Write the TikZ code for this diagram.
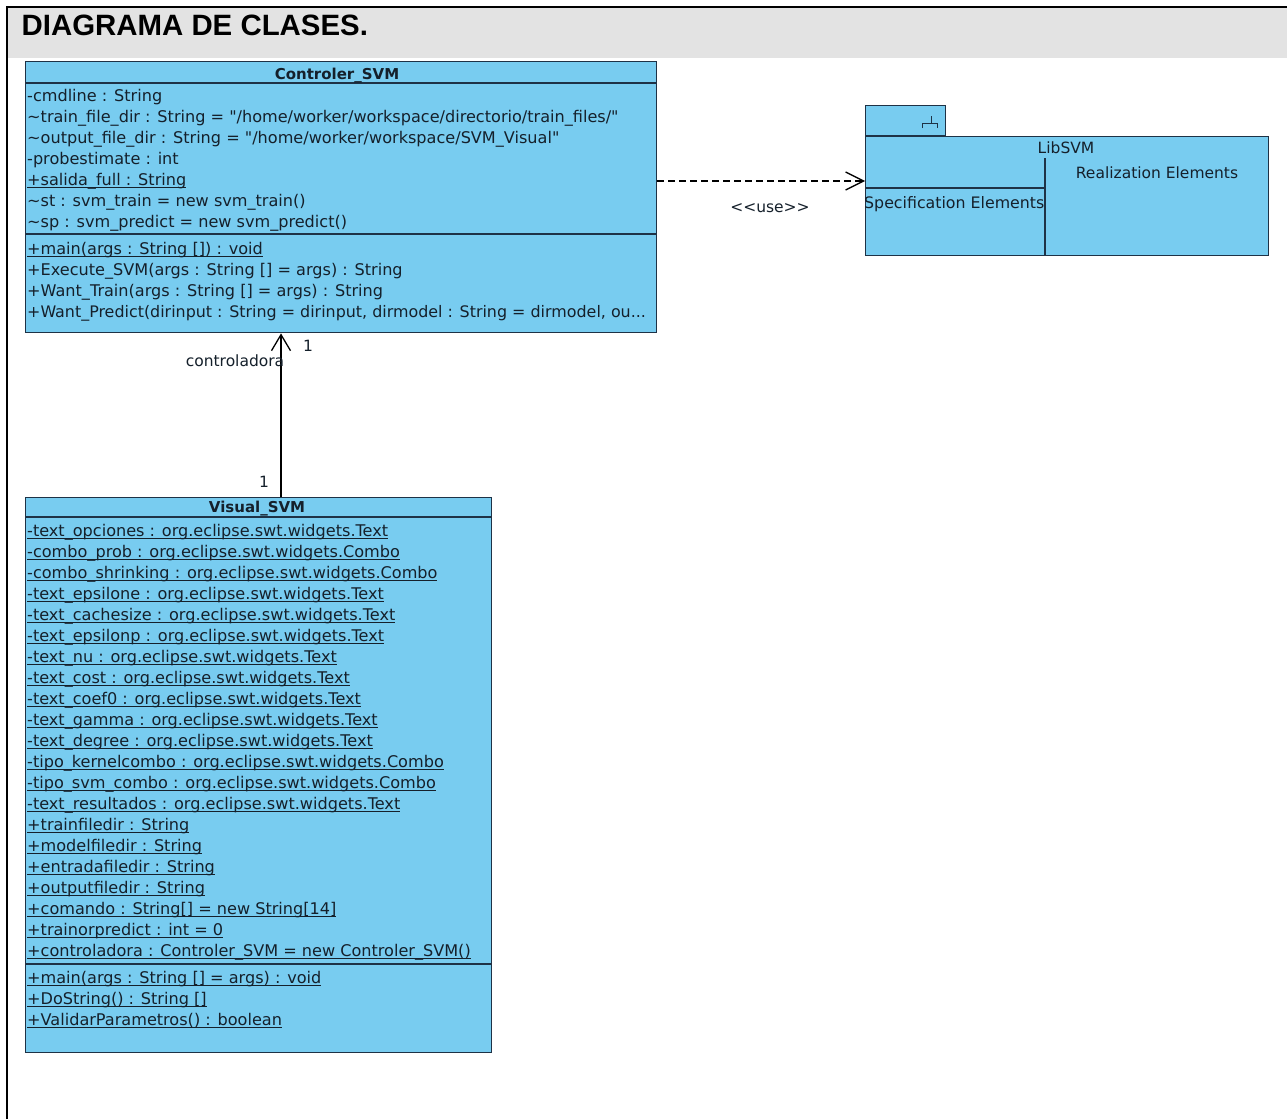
\documentclass[tikz,border=0pt]{standalone}
\usepackage{fontspec}
\setmainfont[Ligatures=TeXOff]{DejaVu Sans}
\newfontfamily\headfont{Liberation Sans}
\usetikzlibrary{arrows.meta}

\definecolor{umlfill}{RGB}{120,204,240}
\definecolor{umlline}{RGB}{30,50,70}
\definecolor{umltext}{RGB}{21,32,43}
\definecolor{headgray}{RGB}{227,227,227}

% underline for static members
\newcommand\umlu[1]{\setbox0=\hbox{#1}\rlap{\rule[-2.8pt]{\wd0}{1pt}}\box0}

\begin{document}
\begin{tikzpicture}[x=1pt,y=-1pt,
  classbox/.style={draw=umlline, fill=umlfill, line width=1.4pt, inner sep=0pt, rectangle},
  boxline/.style={draw=umlline, line width=1.4pt},
  attr/.style={anchor=base west, inner sep=0pt, text=umltext, font=\fontsize{16.1}{19}\selectfont},
  cname/.style={anchor=base, inner sep=0pt, text=umltext, font=\bfseries\fontsize{15}{18}\selectfont},
  lbl/.style={inner sep=0pt, text=umltext, font=\fontsize{15.5}{18}\selectfont},
  assoc/.style={draw=black, line width=1.3pt, -{Straight Barb[length=16pt,width=19pt,line width=1.3pt]}},
  dep/.style={draw=black, line width=1.3pt, dash pattern=on 7pt off 4pt, -{Straight Barb[length=18pt,width=18pt,line width=1.3pt]}}
]
\useasboundingbox (0,0) rectangle (1287,1119);
\fill[white] (0,0) rectangle (1287,1119);

% page frame and heading band
\fill[headgray] (8,8) rectangle (1287,58);
\draw[black, line width=2pt] (7,1119) -- (7,7) -- (1287,7);
\node[anchor=base west, inner sep=0pt, font=\headfont\bfseries\fontsize{29.4}{34}\selectfont] (title) at (21.5,35) {DIAGRAMA DE CLASES.};

% ---------- class Controler_SVM ----------
\node[classbox, minimum width=631pt, minimum height=271pt, anchor=north west] (ctrl) at (25,61) {};
\draw[boxline] ([yshift=-22pt]ctrl.north west) -- ([yshift=-22pt]ctrl.north east);
\draw[boxline] ([yshift=-173pt]ctrl.north west) -- ([yshift=-173pt]ctrl.north east);
\node[cname] (ctrlname) at (337,79.5) {Controler\_SVM};
\foreach \txt [count=\i from 0] in {
  {-cmdline : String},
  {\textasciitilde train\_file\_dir : String = "/home/worker/workspace/directorio/train\_files/"},
  {\textasciitilde output\_file\_dir : String = "/home/worker/workspace/SVM\_Visual"},
  {-probestimate : int},
  {\umlu{+salida\_full : String}},
  {\textasciitilde st : svm\_train = new svm\_train()},
  {\textasciitilde sp : svm\_predict = new svm\_predict()}}
  \node[attr] (ca\i) at (27,{101.5+21*\i}) {\txt};
\node[attr] (cm0) at (27,254.5) {\umlu{+main(args : String []) : void}};
\node[attr] (cm1) at (27,275.5) {+Execute\_SVM(args : String [] = args) : String};
\node[attr] (cm2) at (27,296.5) {+Want\_Train(args : String [] = args) : String};
\node[attr, font=\fontsize{15.9}{19}\selectfont] (cm3) at (27,317.5) {+Want\_Predict(dirinput : String = dirinput, dirmodel : String = dirmodel, ou...};

% ---------- class Visual_SVM ----------
\node[classbox, minimum width=466pt, minimum height=555pt, anchor=north west] (vis) at (25,497) {};
\draw[boxline] ([yshift=-20pt]vis.north west) -- ([yshift=-20pt]vis.north east);
\draw[boxline] ([yshift=-467pt]vis.north west) -- ([yshift=-467pt]vis.north east);
\node[cname] (visname) at (257,512) {Visual\_SVM};
\foreach \txt [count=\i from 0] in {
  -text\_opciones : org.eclipse.swt.widgets.Text,
  -combo\_prob : org.eclipse.swt.widgets.Combo,
  -combo\_shrinking : org.eclipse.swt.widgets.Combo,
  -text\_epsilone : org.eclipse.swt.widgets.Text,
  -text\_cachesize : org.eclipse.swt.widgets.Text,
  -text\_epsilonp : org.eclipse.swt.widgets.Text,
  -text\_nu : org.eclipse.swt.widgets.Text,
  -text\_cost : org.eclipse.swt.widgets.Text,
  -text\_coef0 : org.eclipse.swt.widgets.Text,
  -text\_gamma : org.eclipse.swt.widgets.Text,
  -text\_degree : org.eclipse.swt.widgets.Text,
  -tipo\_kernelcombo : org.eclipse.swt.widgets.Combo,
  -tipo\_svm\_combo : org.eclipse.swt.widgets.Combo,
  -text\_resultados : org.eclipse.swt.widgets.Text,
  +trainfiledir : String,
  +modelfiledir : String,
  +entradafiledir : String,
  +outputfiledir : String,
  {+comando : String[] = new String[14]},
  +trainorpredict : int = 0,
  +controladora : Controler\_SVM = new Controler\_SVM()}
  \node[attr] (va\i) at (27,{536.5+21*\i}) {\umlu{\txt}};
\foreach \txt [count=\i from 0] in {
  {+main(args : String [] = args) : void},
  {+DoString() : String []},
  {+ValidarParametros() : boolean}}
  \node[attr] (vm\i) at (27,{983.5+21*\i}) {\umlu{\txt}};

% ---------- package LibSVM ----------
\node[classbox, minimum width=80pt, minimum height=30pt, anchor=south west] (tab) at (865,136) {};
\node[classbox, minimum width=403pt, minimum height=119pt, anchor=north west] (pkg) at (865,136) {};
\draw[umlline, line width=0.9pt] (931,116) -- (931,123) (922.5,128) -- (922.5,123) -- (937.5,123) -- (937.5,128);
\draw[boxline] (1045,158) -- (1045,255);
\draw[boxline] (865,188) -- (1045,188);
\node[lbl, anchor=base] (pkgname) at (1066,153) {LibSVM};
\node[lbl, anchor=base] (realel) at (1157,178) {Realization Elements};
\node[lbl, anchor=base west, font=\fontsize{15.8}{19}\selectfont] (specel) at (864,208) {Specification Elements};

% ---------- connectors ----------
\coordinate (depy) at (0,181);
\draw[dep] (ctrl.east |- depy) -- (pkg.west |- depy);
\node[lbl, anchor=base] (uselbl) at (770,212.5) {<<use>>};

\coordinate (assocx) at (281,0);
\draw[assoc] (vis.north -| assocx) -- (ctrl.south -| assocx);
\node[lbl, anchor=base] (rolelbl) at (235,366.5) {controladora};
\node[lbl, anchor=base] (multtop) at (308,351.5) {1};
\node[lbl, anchor=base] (multbot) at (264,487) {1};
\end{tikzpicture}
\end{document}
